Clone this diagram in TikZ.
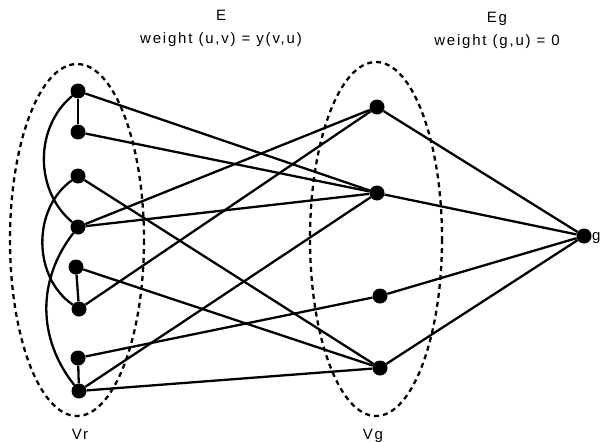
\documentclass[tikz,border=0pt]{standalone}
\usepackage{fontspec}
\setmainfont{Liberation Sans}
\newfontfamily\lblfont[LetterSpace=12]{Liberation Sans}
\usetikzlibrary{arrows.meta}

\begin{document}
\begin{tikzpicture}[
    x=1pt, y=-1pt,
    vert/.style={circle, fill=black, inner sep=0pt, minimum width=14pt, minimum height=15pt},
    edge/.style={line width=2.3pt},
    setline/.style={line width=2.3pt, dash pattern=on 5pt off 4pt},
    lbl/.style={font=\fontsize{15}{17}\lblfont, inner sep=0pt, anchor=base}
]
\useasboundingbox (0,0) rectangle (601,441);

% -------- Vertex sets Vr and Vg ----------------------------
\draw[setline] (77,240) ellipse (67 and 176);
\draw[setline] (376,239) ellipse (66 and 177);
\node[lbl] (vrlabel) at (80,439) {Vr};
\node[lbl] (vglabel) at (373,439) {Vg};

% -------- Edge labels -------------------------------------
\node[lbl] (elabel)  at (221,21) {E};
\node[lbl] (ewlabel) at (221,44) {weight (u,v) = y(v,u)};
\node[lbl] (eglabel) at (497,23) {Eg};
\node[lbl] (egwlabel) at (497,46) {weight (g,u) = 0};

% -------- Vertices -----------------------------------------
\node[vert] (r1) at (78,91) {};
\node[vert] (r2) at (78,132) {};
\node[vert] (r3) at (78,176) {};
\node[vert] (r4) at (78,227) {};
\node[vert] (r5) at (76,267) {};
\node[vert] (r6) at (79,309) {};
\node[vert] (r7) at (78,358) {};
\node[vert] (r8) at (79,391) {};

\node[vert] (g1) at (377,107) {};
\node[vert] (g2) at (377,193) {};
\node[vert] (g3) at (380,296) {};
\node[vert] (g4) at (380,368) {};

\node[vert] (g) at (584,236) {};
\node[lbl, anchor=base west] (glabel) at (592,240) {g};

% -------- Edges inside Vr ----------------------------------
\draw[edge] (r1) -- (r2);
\draw[edge] (r5) -- (r6);
\draw[edge] (r7) -- (r8);
\draw[edge] (r1) to[bend right=50] (r4);
\draw[edge] (r3) to[bend right=55] (r6);
\draw[edge] (r4) to[bend right=38] (r8);

% -------- Edges E from Vr to Vg ----------------------------
\foreach \a/\b in {r1/g2, r2/g2, r3/g4, r4/g1, r4/g2,
                   r5/g4, r6/g1, r7/g3, r8/g2, r8/g4}
    \draw[edge] (\a) -- (\b);

% -------- Edges Eg to g ------------------------------------
\foreach \a in {g1, g2, g3, g4}
    \draw[edge] (\a) -- (g);

\end{tikzpicture}
\end{document}
